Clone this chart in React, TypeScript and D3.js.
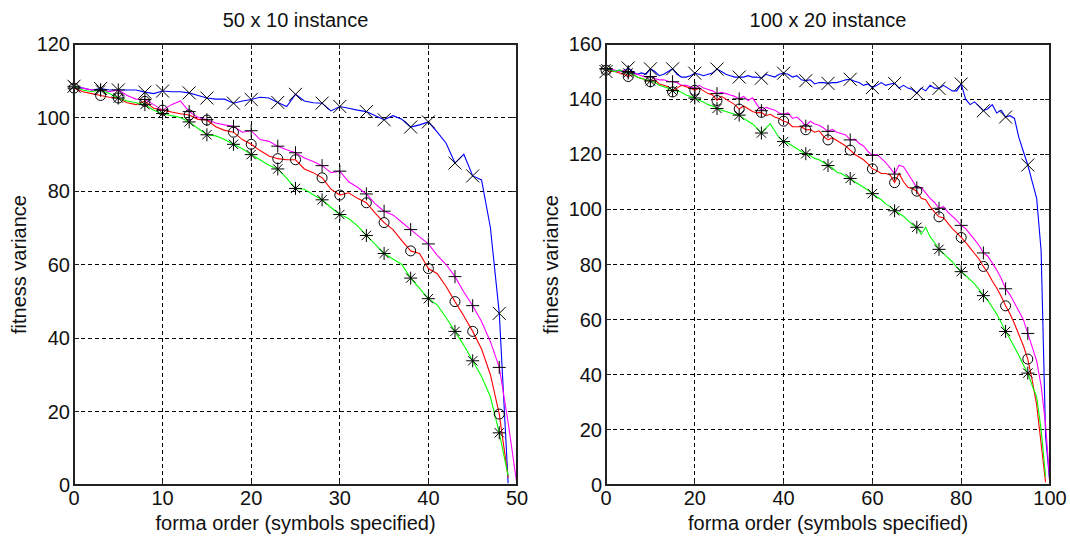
import React from "react";
import * as d3 from "d3";

// ---- left panel: 50 x 10 instance (x = forma order 0..n) ----
const leftTitle = "50 x 10 instance";
const leftXTicks = [0, 10, 20, 30, 40, 50];
const leftYTicks = [0, 20, 40, 60, 80, 100, 120];
const leftMarkerAt = [0, 3, 5, 8, 10, 13, 15, 18, 20, 23, 25, 28, 30, 33, 35, 38, 40, 43, 45, 48];

const leftBlue = [108.5, 108, 107.5, 107.9, 107.5, 107.5, 107.5, 107.5, 106.9, 106.5, 107.2, 107, 107, 106.7, 106, 105.3, 105, 105, 103.9, 104.5, 104.9, 105.5, 105.3, 104.1, 103, 106.3, 104.5, 104, 103.9, 101.8, 103, 102.5, 102, 101.6, 100.5, 99.4, 100.5, 99.5, 97.4, 98, 98.8, 96, 93, 87.6, 90, 84.1, 83, 70, 46.7, 0.5];
const leftMagenta = [108, 108, 107.5, 107.5, 107, 107.5, 106, 105, 104.9, 103.5, 102, 103.5, 104.5, 101.6, 100, 99.4, 98.5, 98, 97.6, 96, 96.4, 94, 93.5, 92.2, 91.2, 90.4, 89, 88, 86.9, 85, 85.4, 82.5, 81, 79.2, 76.5, 74.5, 73.5, 71.5, 69.5, 67.5, 65.6, 62.5, 60, 56.7, 52.5, 48.8, 44.5, 39, 32, 17, 0];
const leftRed = [108, 107, 106.5, 106, 105.5, 105.3, 104, 103.5, 104.4, 102.5, 102, 101.5, 101, 100.7, 99.5, 99.3, 97.5, 96.5, 96, 94, 92.7, 91, 89.5, 88.8, 88.5, 88.5, 86, 85, 83.6, 80.5, 78.9, 79.5, 78, 76.8, 74, 71.4, 69.5, 66.5, 63.7, 63, 58.9, 57.5, 54, 49.9, 46, 41.8, 37, 30, 19.3, 2];
const leftGreen = [108.5, 107.5, 107, 107.5, 106.5, 105.3, 104.5, 104, 103.5, 102, 101.1, 100.5, 100, 98.8, 97, 95.3, 95, 94, 92.7, 91.5, 89.9, 88.5, 87, 86, 83.5, 80.7, 80.5, 79, 77.6, 75.5, 73.6, 72.5, 70.5, 67.9, 65.5, 63, 61.5, 60, 56.3, 53.5, 50.7, 49, 45.5, 41.8, 38, 33.8, 29.5, 24, 14.2, 2.5];

// ---- right panel: 100 x 20 instance ----
const rightTitle = "100 x 20 instance";
const rightXTicks = [0, 20, 40, 60, 80, 100];
const rightYTicks = [0, 20, 40, 60, 80, 100, 120, 140, 160];
const rightMarkerAt = [0, 5, 10, 15, 20, 25, 30, 35, 40, 45, 50, 55, 60, 65, 70, 75, 80, 85, 90, 95];

const rightBlue = [150, 151, 150, 150.5, 150, 151.3, 150, 149, 149.5, 149, 151, 150, 148.5, 149, 150, 151, 149, 148, 148, 148.5, 149.4, 149, 148.5, 149, 149.5, 150.9, 150, 149, 148.5, 148, 148, 148, 148.5, 148, 148, 147.6, 149, 148.5, 148, 149, 149.4, 149, 148, 148.5, 147, 146.7, 147, 145.5, 146, 146, 145.7, 146, 146, 146.5, 147, 147.2, 146.5, 146, 145, 145.5, 144.2, 145, 146, 145, 145.5, 145.7, 144, 145, 144, 143.5, 142.2, 144, 143, 145, 144, 143.9, 145, 144, 143, 143, 145.5, 140, 138, 139, 137.5, 135.8, 136.5, 138, 135, 136, 133.5, 134, 133, 126, 121, 116.1, 110, 104, 85, 18, 0];
const rightMagenta = [151, 151, 150.5, 150, 150.5, 150, 149.5, 149, 148.5, 148, 148.2, 147.5, 147, 147, 146.5, 146.3, 146, 145, 145, 144.5, 143.9, 145, 144, 143.5, 143, 142, 142.5, 142, 141.5, 141, 140.1, 141, 139.5, 140.5, 138, 135.8, 137, 136.5, 136, 135, 134.5, 135, 133, 133.5, 132, 130.2, 132, 131, 130.5, 129.5, 128.3, 129, 128, 127.5, 127, 125.2, 125.5, 124, 123, 121, 119.6, 120, 118.5, 117, 115, 112.8, 116, 115.5, 113, 110.5, 107.8, 108, 106, 104, 102.5, 100.4, 101, 99, 97.5, 96, 94.2, 93, 91, 89, 87, 84.2, 83, 80.5, 78, 75, 71.2, 69, 66, 63, 60, 55, 50, 45, 36, 22, 0];
const rightRed = [150.5, 150, 150, 149.5, 149, 148.2, 149, 148, 147.5, 147, 146.3, 147, 145.5, 145, 144.5, 142.6, 144, 145, 144.5, 144, 143.2, 144, 143, 142, 141.5, 139.5, 141, 140, 139, 138, 136.4, 137.5, 136.5, 135.5, 135, 135.2, 134, 134.5, 133.5, 133, 132, 131.5, 130, 130, 130, 128.9, 129, 128, 128.5, 126.5, 125.2, 126, 125, 124, 123, 121.5, 120, 119, 118, 116.5, 114.7, 114, 113, 113, 112.5, 109.7, 113, 110, 108, 107.5, 106.6, 104, 103.5, 101, 99, 97.3, 97, 95, 93, 91.5, 89.8, 88, 86, 84, 82, 79.3, 77, 74, 71.5, 68.5, 65, 62, 58.5, 54.5, 50.5, 45.7, 38, 29, 15, 1];
const rightGreen = [151, 150.5, 150, 150.5, 150, 149.5, 149, 148, 147.5, 147, 146.6, 146, 145, 144.5, 144, 143.1, 143, 142.5, 141.5, 141, 140.4, 139.5, 139, 138, 137.5, 136.6, 136, 135.5, 135, 134.5, 134.2, 133, 132, 131, 129.5, 127.7, 129.5, 131, 128.5, 126, 124.6, 124, 123, 122, 121, 120.2, 119.5, 118.5, 118, 117, 115.9, 115, 113.5, 113, 112, 111.2, 110, 109, 108, 107, 105.7, 104.5, 103.5, 102, 101, 99.5, 98.5, 97.5, 96, 94.5, 93.5, 91, 93.5, 90, 88, 85.5, 84, 82.5, 81, 79, 77.4, 76, 74.5, 73, 71, 68.7, 67, 64.5, 62, 59, 55.7, 53, 50, 47, 43.5, 40.6, 36, 32, 20, 3];

type Marker = "x" | "+" | "o" | "*";
type Series = { values: number[]; color: string; marker: Marker };

const FONT = "'Liberation Sans', Arial, Helvetica, sans-serif";

function markerPath(m: Marker, s: number) {
  const d = s * 0.72;
  if (m === "x") return `M${-s},${-s}L${s},${s}M${-s},${s}L${s},${-s}`;
  if (m === "+") return `M${-s},0H${s}M0,${-s}V${s}`;
  return `M${-s},0H${s}M0,${-s}V${s}M${-d},${-d}L${d},${d}M${-d},${d}L${d},${-d}`;
}

function Panel(props: {
  id: string;
  left: number;
  right: number;
  top: number;
  bottom: number;
  title: string;
  xMax: number;
  yMax: number;
  xTicks: number[];
  yTicks: number[];
  markerAt: number[];
  series: Series[];
  ylabelX: number;
}) {
  const { id, left, right, top, bottom, title, xMax, yMax, xTicks, yTicks, markerAt, series, ylabelX } = props;
  const x = d3.scaleLinear().domain([0, xMax]).range([left, right]);
  const y = d3.scaleLinear().domain([0, yMax]).range([bottom, top]);
  const line = d3
    .line<number>()
    .x((_, i) => x(i))
    .y((d) => y(d));
  const cx = (left + right) / 2;
  const cy = (top + bottom) / 2;
  const ink = "#111";

  return (
    <g>
      <defs>
        <clipPath id={id}>
          <rect x={left} y={top - 2} width={right - left + 1} height={bottom - top + 4} />
        </clipPath>
      </defs>
      <rect x={left} y={top} width={right - left} height={bottom - top} fill="#fff" />
      {/* grid */}
      <g stroke="#000" strokeWidth={1} strokeDasharray="4,3" shapeRendering="crispEdges">
        {xTicks.slice(1, -1).map((t) => (
          <line key={"gx" + t} x1={x(t)} x2={x(t)} y1={top} y2={bottom} />
        ))}
        {yTicks.slice(1, -1).map((t) => (
          <line key={"gy" + t} x1={left} x2={right} y1={y(t)} y2={y(t)} />
        ))}
      </g>
      {/* lines */}
      <g clipPath={`url(#${id})`} fill="none" strokeWidth={1.1}>
        {series.map((s, i) => (
          <path key={"l" + i} d={line(s.values) || ""} stroke={s.color} />
        ))}
      </g>
      {/* markers */}
      <g stroke="#000" strokeWidth={1} fill="none">
        {series.map((s, i) =>
          markerAt.map((m) =>
            s.marker === "o" ? (
              <circle key={"m" + i + "-" + m} cx={x(m)} cy={y(s.values[m])} r={5} />
            ) : (
              <path
                key={"m" + i + "-" + m}
                transform={`translate(${x(m)},${y(s.values[m])})`}
                d={markerPath(s.marker, 6.5)}
              />
            )
          )
        )}
      </g>
      {/* box and ticks */}
      <rect x={left} y={top} width={right - left} height={bottom - top} fill="none" stroke="#222" strokeWidth={1.2} shapeRendering="crispEdges" />
      <g stroke="#222" strokeWidth={1} shapeRendering="crispEdges">
        {xTicks.map((t) => (
          <g key={"tx" + t}>
            <line x1={x(t)} x2={x(t)} y1={bottom} y2={bottom - 5} />
            <line x1={x(t)} x2={x(t)} y1={top} y2={top + 5} />
          </g>
        ))}
        {yTicks.map((t) => (
          <g key={"ty" + t}>
            <line x1={left} x2={left + 5} y1={y(t)} y2={y(t)} />
            <line x1={right} x2={right - 5} y1={y(t)} y2={y(t)} />
          </g>
        ))}
      </g>
      {/* labels */}
      <g fontFamily={FONT} fontSize={20} fill={ink}>
        {xTicks.map((t) => (
          <text key={"lx" + t} x={x(t)} y={bottom + 20} textAnchor="middle">
            {t}
          </text>
        ))}
        {yTicks.map((t) => (
          <text key={"ly" + t} x={left - 4} y={y(t) + 7} textAnchor="end">
            {t}
          </text>
        ))}
        <text x={cx} y={27} textAnchor="middle">
          {title}
        </text>
        <text x={cx} y={530} textAnchor="middle">
          forma order (symbols specified)
        </text>
        <text transform={`translate(${ylabelX},${cy}) rotate(-90)`} textAnchor="middle">
          fitness variance
        </text>
      </g>
    </g>
  );
}

export default function App() {
  const leftSeries: Series[] = [
    { values: leftBlue, color: "#0000ff", marker: "x" },
    { values: leftMagenta, color: "#ff00ff", marker: "+" },
    { values: leftRed, color: "#ff0000", marker: "o" },
    { values: leftGreen, color: "#00ff00", marker: "*" },
  ];
  const rightSeries: Series[] = [
    { values: rightBlue, color: "#0000ff", marker: "x" },
    { values: rightMagenta, color: "#ff00ff", marker: "+" },
    { values: rightRed, color: "#ff0000", marker: "o" },
    { values: rightGreen, color: "#00ff00", marker: "*" },
  ];
  return (
    <svg
      width={1070}
      height={538}
      viewBox="0 0 1070 538"
      style={{ position: "absolute", left: 0, top: 0, background: "#fff" }}
    >
      <rect width={1070} height={538} fill="#fff" />
      <Panel
        id="clipL"
        left={74}
        right={517}
        top={44}
        bottom={485}
        title={leftTitle}
        xMax={50}
        yMax={120}
        xTicks={leftXTicks}
        yTicks={leftYTicks}
        markerAt={leftMarkerAt}
        series={leftSeries}
        ylabelX={26}
      />
      <Panel
        id="clipR"
        left={606}
        right={1050}
        top={44}
        bottom={485}
        title={rightTitle}
        xMax={100}
        yMax={160}
        xTicks={rightXTicks}
        yTicks={rightYTicks}
        markerAt={rightMarkerAt}
        series={rightSeries}
        ylabelX={558}
      />
    </svg>
  );
}
